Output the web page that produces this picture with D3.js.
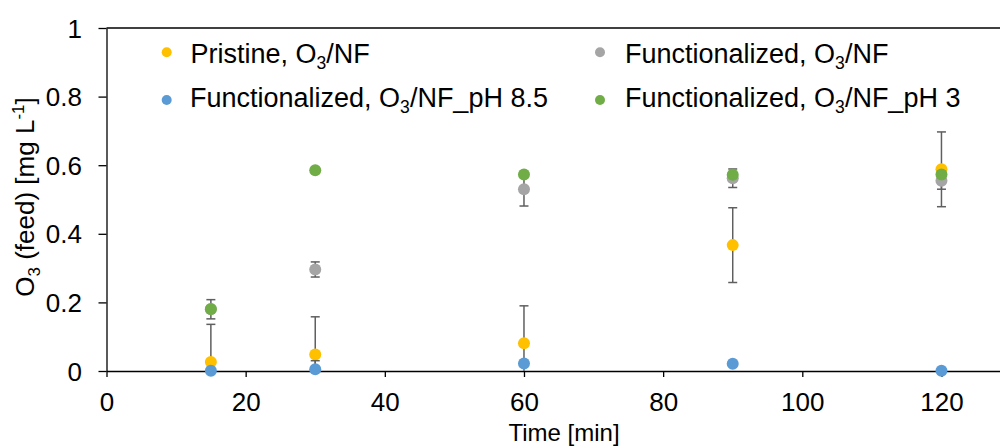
<!DOCTYPE html>
<html>
<head>
<meta charset="utf-8">
<script src="https://cdn.jsdelivr.net/npm/d3@7"></script>
<style>
  html, body { margin: 0; padding: 0; background: #fff; }
  svg { display: block; font-family: "Liberation Sans", Arial, sans-serif; }
</style>
</head>
<body>
<svg id="chart" width="1000" height="446"></svg>
<script>
// ---- data ----
const times = [15, 30, 60, 90, 120];
const pristine = [0.026, 0.048, 0.081, 0.367, 0.588];
const pristineErr = [0.11, 0.11, 0.109, 0.109, 0.109];
const functionalized = [0.18, 0.296, 0.53, 0.562, 0.555];
const functionalizedErr = [0.028, 0.022, 0.049, 0.027, 0.025];
const ph85 = [0.001, 0.005, 0.022, 0.021, 0.001];
const ph85Err = [0, 0.025, 0, 0, 0];
const ph3 = [0.181, 0.585, 0.573, 0.572, 0.573];
const ph3Err = [0, 0, 0, 0, 0];
const xTicks = [0, 20, 40, 60, 80, 100, 120];
const yTicks = [0, 0.2, 0.4, 0.6, 0.8, 1];

const series = [
  { name: "Pristine", values: pristine, err: pristineErr, color: "#FFC000" },
  { name: "Functionalized", values: functionalized, err: functionalizedErr, color: "#A5A5A5" },
  { name: "Functionalized pH 8.5", values: ph85, err: ph85Err, color: "#5B9BD5" },
  { name: "Functionalized pH 3", values: ph3, err: ph3Err, color: "#70AD47" }
];

const svg = d3.select("#chart");
svg.append("rect").attr("width", 1000).attr("height", 446).attr("fill", "#fff");

const x = d3.scaleLinear().domain([0, 140]).range([106.5, 106.5 + 140 * 6.958]);
const y = d3.scaleLinear().domain([0, 1]).range([371, 28]);

// top border
svg.append("line")
  .attr("x1", x(0)).attr("x2", 1000)
  .attr("y1", y(1)).attr("y2", y(1))
  .attr("stroke", "#000").attr("stroke-width", 1.3);

// axes
const yAxis = d3.axisLeft(y).tickValues(yTicks).tickFormat(d3.format("~g"))
  .tickSize(8).tickSizeOuter(0).tickPadding(16.5);
const gy = svg.append("g").attr("transform", `translate(${x(0)},0)`).call(yAxis);

const xAxis = d3.axisBottom(x).tickValues(xTicks).tickFormat(d3.format("d"))
  .tickSize(6).tickSizeOuter(0).tickPadding(16);
const gx = svg.append("g").attr("transform", `translate(0,${y(0)})`).call(xAxis);

[gx, gy].forEach(g => {
  g.select(".domain").attr("stroke", "#000").attr("stroke-width", 1.3);
  g.selectAll(".tick line").attr("stroke", "#000").attr("stroke-width", 1.3);
  g.selectAll(".tick text").attr("fill", "#000").attr("font-size", 26)
    .attr("font-family", "Liberation Sans, Arial, sans-serif");
});
gy.selectAll(".tick text").attr("dy", "0.35em");

const plot = svg.append("g");

// error bars and markers per series (drawn in series order)
series.forEach(s => {
  const g = plot.append("g");
  times.forEach((t, i) => {
    const e = s.err[i];
    if (!e) return;
    const v = s.values[i];
    const lo = Math.max(0, v - e), hi = Math.min(1, v + e);
    const cx = x(t);
    g.append("line").attr("x1", cx).attr("x2", cx)
      .attr("y1", y(lo)).attr("y2", y(hi))
      .attr("stroke", "#5f5f5f").attr("stroke-width", 1.5);
    [v - e, v + e].forEach(c => {
      if (c < 0 || c > 1) return;
      g.append("line").attr("x1", cx - 4.5).attr("x2", cx + 4.5)
        .attr("y1", y(c)).attr("y2", y(c))
        .attr("stroke", "#5f5f5f").attr("stroke-width", 1.5);
    });
  });
  g.selectAll("circle").data(times).join("circle")
    .attr("cx", d => x(d))
    .attr("cy", (d, i) => y(s.values[i]))
    .attr("r", 6)
    .attr("fill", s.color);
});

// legend
function richText(g, parts, fs) {
  const t = g.append("text").attr("font-size", fs).attr("fill", "#000");
  let shift = 0;
  parts.forEach(p => {
    const ts = t.append("tspan").text(p.t);
    let target = 0;
    if (p.sub) { ts.attr("font-size", fs * 0.65); target = 6; }
    if (p.sup) { ts.attr("font-size", fs * 0.65); target = -10; }
    ts.attr("dy", target - shift);
    shift = target;
  });
  return t;
}

const legendItems = [
  { color: "#FFC000", mx: 166.7, my: 52.3, tx: 190.5, ty: 62.7, parts: [{ t: "Pristine, O" }, { t: "3", sub: true }, { t: "/NF" }] },
  { color: "#A5A5A5", mx: 600, my: 52.3, tx: 625, ty: 62.7, parts: [{ t: "Functionalized, O" }, { t: "3", sub: true }, { t: "/NF" }] },
  { color: "#5B9BD5", mx: 166.7, my: 100, tx: 190, ty: 107.3, parts: [{ t: "Functionalized, O" }, { t: "3", sub: true }, { t: "/NF_pH 8.5" }] },
  { color: "#70AD47", mx: 600, my: 100, tx: 625, ty: 107.3, parts: [{ t: "Functionalized, O" }, { t: "3", sub: true }, { t: "/NF_pH 3" }] }
];
const lg = svg.append("g");
legendItems.forEach(it => {
  lg.append("circle").attr("cx", it.mx).attr("cy", it.my).attr("r", 5).attr("fill", it.color);
  const g = lg.append("g").attr("transform", `translate(${it.tx},${it.ty})`);
  richText(g, it.parts, 27);
});

// axis titles
svg.append("text")
  .attr("x", 564).attr("y", 440.5)
  .attr("text-anchor", "middle").attr("font-size", 24).attr("fill", "#000")
  .text("Time [min]");

const yl = svg.append("g").attr("transform", "translate(34,197) rotate(-90)");
const ylt = richText(yl, [{ t: "O" }, { t: "3", sub: true }, { t: " (feed) [mg L" }, { t: "-1", sup: true }, { t: "]" }], 26);
ylt.attr("text-anchor", "middle");
</script>
</body>
</html>
